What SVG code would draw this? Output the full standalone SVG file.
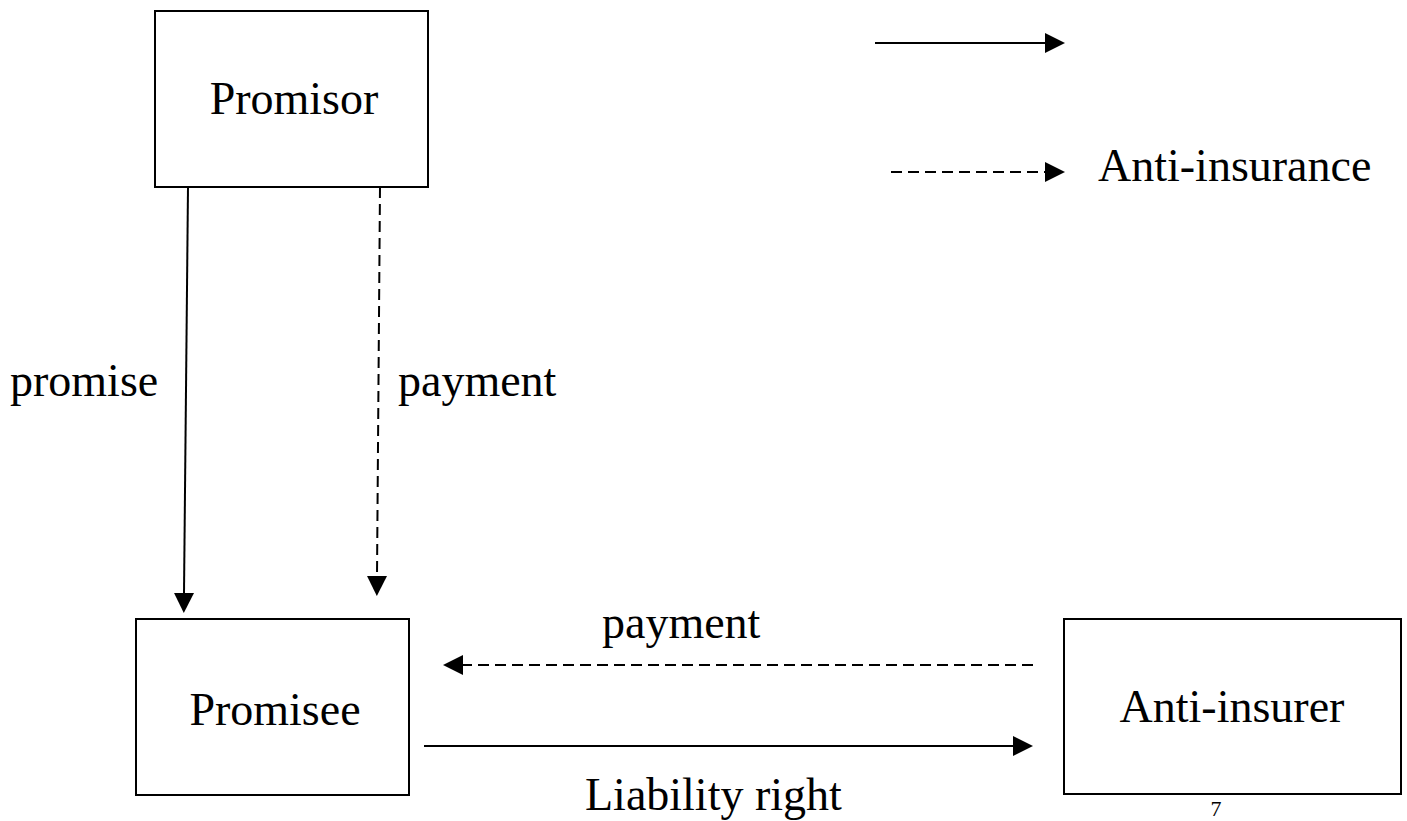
<svg xmlns="http://www.w3.org/2000/svg" width="1407" height="821" viewBox="0 0 1407 821">
<style>
.box{fill:#fff;stroke:#000;stroke-width:2}
.t{font-family:"Liberation Serif","Times New Roman",serif;font-size:46px;fill:#000}
.c{stroke:#000;stroke-width:2;fill:none}
.d{stroke-dasharray:11 6}
</style>
<defs>
<marker id="ah" markerUnits="userSpaceOnUse" markerWidth="20" markerHeight="20" refX="0" refY="10" orient="auto" viewBox="0 0 20 20">
<path d="M0,0 L20,10 L0,20 Z" fill="#000"/>
</marker>
</defs>
<rect width="1407" height="821" fill="#fff"/>
<g id="promisor">
<rect class="box" x="155" y="11" width="273" height="176"/>
<text class="t" x="294" y="114" text-anchor="middle">Promisor</text>
</g>
<g id="promisee">
<rect class="box" x="136" y="619" width="273" height="176"/>
<text class="t" x="275" y="725" text-anchor="middle">Promisee</text>
</g>
<g id="anti-insurer">
<rect class="box" x="1064" y="619" width="337" height="175"/>
<text class="t" x="1232" y="722" text-anchor="middle">Anti-insurer</text>
</g>
<g id="connectors">
<path class="c" d="M188,187 L184,593" marker-end="url(#ah)"/>
<path class="c d" d="M380,187 L377,576" marker-end="url(#ah)"/>
<path class="c d" d="M1033,665 L463,665" marker-end="url(#ah)"/>
<path class="c" d="M424,746 L1013,746" marker-end="url(#ah)"/>
<path class="c" d="M875,43 L1045,43" marker-end="url(#ah)"/>
<path class="c d" d="M891,172 L1045,172" marker-end="url(#ah)"/>
</g>
<g id="labels">
<text class="t" x="10" y="396">promise</text>
<text class="t" x="398" y="396">payment</text>
<text class="t" x="602" y="638">payment</text>
<text class="t" x="585" y="810">Liability right</text>
<text class="t" x="1098" y="181">Anti-insurance</text>
<text x="1216" y="816" text-anchor="middle" style="font-family:'Liberation Serif','Times New Roman',serif;font-size:22px">7</text>
</g>
</svg>
